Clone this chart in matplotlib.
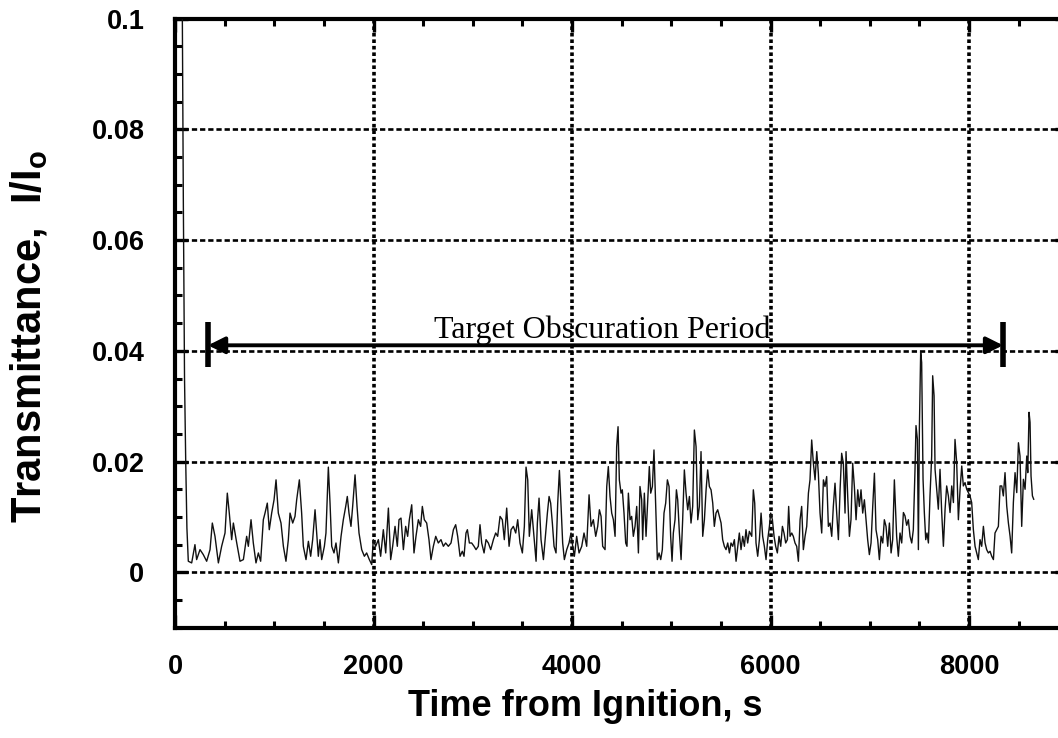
import numpy as np
import matplotlib
matplotlib.use("Agg")
import matplotlib.pyplot as plt
from matplotlib.ticker import MultipleLocator, FixedLocator, FixedFormatter

# data (transmittance in units of 1e-3)
# ------------------------------------------------------------
time_s = [
    50, 74, 84, 96, 108, 120, 134,
    168, 201, 218, 252, 285, 319, 353, 376, 403, 437, 470, 504, 527, 547, 571, 588, 622, 655, 689, 722, 739,
    766, 789, 816, 840, 863, 890, 907, 930, 950, 974, 998, 1018, 1041, 1068, 1092, 1118, 1142, 1159, 1186,
    1209, 1226, 1253, 1276, 1293, 1320, 1344, 1367, 1387, 1411, 1427,
    1444, 1461, 1478, 1505, 1521, 1545, 1562, 1579, 1602, 1622, 1646, 1673, 1696, 1720, 1736, 1753, 1773,
    1790, 1814, 1834, 1854, 1881, 1908, 1931, 1958, 1982, 1998, 2022, 2049, 2072, 2099, 2123, 2150, 2173,
    2193, 2217, 2240, 2257, 2277, 2301, 2324, 2344, 2361, 2385, 2408, 2428, 2452, 2475, 2492, 2512, 2536,
    2559, 2579, 2603, 2627, 2653, 2680, 2704, 2727, 2754, 2781, 2805, 2828, 2848, 2872, 2895,
    2912, 2932, 2946, 2966, 2989, 3013, 3033, 3056, 3073, 3090, 3114, 3134, 3157, 3181, 3208, 3231, 3251,
    3275, 3298, 3318, 3342, 3366, 3386, 3409, 3433, 3453, 3476, 3500, 3520, 3537, 3554, 3570, 3594, 3617,
    3638, 3651, 3668, 3688, 3712, 3735, 3752, 3769, 3785, 3802, 3819, 3839, 3856, 3873, 3890, 3906, 3923,
    3947, 3970, 3990, 4007, 4024, 4047, 4071, 4098, 4121, 4148, 4172, 4192, 4215, 4239, 4259, 4276, 4293,
    4309,
    4333, 4350, 4366, 4383, 4400, 4417, 4434, 4450, 4464, 4477, 4494, 4507, 4524, 4541, 4554, 4568, 4585,
    4601, 4618, 4635, 4652, 4669, 4685, 4702, 4712, 4729, 4746, 4763, 4779, 4793, 4810, 4826, 4843, 4860,
    4877, 4894, 4910, 4927, 4944, 4961, 4978, 4994, 5008, 5021, 5038, 5052, 5065, 5082, 5099, 5115, 5132,
    5149, 5166, 5183, 5199, 5216, 5233, 5250, 5267, 5283, 5300, 5317, 5334, 5351, 5367, 5384, 5401, 5418,
    5434, 5451, 5468, 5485, 5502, 5518, 5535, 5552, 5569, 5586, 5602, 5619, 5636, 5653, 5670, 5686, 5703,
    5720, 5737, 5753, 5770, 5787,
    5811, 5827, 5841, 5854, 5871, 5888, 5905, 5921, 5938, 5955, 5972, 5989, 6002, 6019, 6036, 6052, 6069,
    6086, 6103, 6120, 6136, 6153, 6170, 6183, 6197, 6214, 6230, 6247, 6264, 6281, 6298, 6314, 6331, 6348,
    6365, 6382, 6398, 6415, 6432, 6449, 6466, 6482, 6499, 6516, 6533, 6549, 6566, 6583, 6600, 6617, 6633,
    6650, 6667, 6684, 6701, 6717, 6734, 6751, 6761, 6778, 6795, 6811, 6828, 6845, 6862, 6879, 6895, 6912,
    6929, 6946, 6963, 6979, 6996, 7013, 7030, 7047, 7063, 7080, 7097, 7114, 7131, 7147, 7164, 7181, 7198,
    7215, 7231, 7248,
    7271, 7288, 7305, 7322, 7339, 7355, 7372, 7389, 7406, 7423, 7439, 7456, 7466, 7480, 7490, 7500, 7513,
    7523, 7537, 7550, 7564, 7577, 7591, 7607, 7624, 7634, 7648, 7658, 7675, 7691, 7708, 7725, 7742, 7759,
    7775, 7792, 7809, 7826, 7843, 7859, 7876, 7893, 7910, 7927, 7943, 7960, 7977, 7994, 8010, 8027, 8044,
    8061, 8078, 8094, 8111, 8128, 8145, 8162, 8178, 8195, 8212, 8229, 8246, 8262, 8279, 8296, 8313, 8330,
    8346, 8363, 8380, 8397, 8414, 8430, 8447, 8464, 8481, 8498, 8514, 8531, 8548, 8565, 8582, 8592, 8605,
    8615, 8625, 8639, 8652,
]

trans_milli = [
    130, 100, 67, 35, 20, 8, 2.0,
    1.7, 5.0, 2.3, 4.1, 3.2, 2.0, 4.1, 8.9, 6.5, 1.7, 4.7, 7.1, 14.3, 10.7, 5.9, 8.9, 5.3, 2.0, 2.3, 6.5, 4.7,
    9.5, 5.3, 1.7, 3.5, 2.0, 9.5, 10.7, 12.5, 7.7, 10.7, 13.1, 16.7, 10.7, 8.9, 4.7, 2.0, 5.9, 10.7, 8.9,
    10.1, 13.1, 16.7, 10.7, 4.7, 2.3, 5.6, 2.9, 5.9, 11.3, 7.1,
    2.9, 5.9, 2.3, 4.7, 7.1, 19.0, 12.5, 4.7, 3.5, 5.3, 1.7, 6.5, 9.5, 11.9, 13.7, 10.7, 8.3,
    11.9, 17.6, 11.9, 7.1, 4.1, 2.9, 3.5, 2.3, 1.4, 5.9, 4.7, 5.9, 2.9, 7.7, 3.5, 11.6, 2.3,
    4.7, 8.3, 4.7, 9.5, 9.8, 4.1, 8.3, 6.5, 9.5, 12.2, 3.5, 6.5, 9.5, 8.3, 11.9, 9.5, 8.9,
    5.9, 2.3, 4.7, 6.5, 5.3, 5.9, 4.7, 5.3, 4.7, 5.3, 7.7, 8.6, 6.5, 2.9, 3.8,
    2.9, 7.1, 7.7, 5.3, 5.3, 4.7, 4.1, 4.7, 8.6, 5.3, 3.5, 5.9, 5.3, 4.1, 5.9, 7.1, 6.5,
    10.1, 9.5, 5.9, 11.6, 4.7, 7.7, 8.3, 7.1, 9.5, 5.3, 3.5, 8.3, 19.0, 16.7, 6.5, 11.3, 6.5,
    2.0, 8.9, 13.4, 5.9, 2.3, 7.1, 10.7, 13.7, 12.5, 8.9, 4.7, 3.5, 12.5, 18.4, 11.9, 5.3, 2.3,
    4.1, 5.3, 7.1, 4.7, 2.9, 6.5, 3.5, 4.7, 7.1, 4.7, 14.0, 8.3, 9.5, 6.5, 8.3, 11.3, 10.1,
    4.7,
    4.1, 15.5, 19.1, 13.7, 10.7, 9.5, 6.5, 22.7, 26.3, 16.7, 14.3, 14.9, 10.7, 5.3, 4.7, 14.3, 9.5,
    10.1, 6.5, 8.3, 11.9, 3.5, 15.5, 13.1, 5.9, 14.3, 6.5, 13.1, 19.1, 14.3, 15.5, 22.1, 11.9, 2.3,
    3.5, 2.3, 4.1, 10.7, 12.5, 16.7, 15.5, 6.5, 2.0, 7.1, 9.5, 14.9, 13.1, 7.1, 2.3, 9.5, 18.5,
    14.3, 11.3, 13.7, 8.9, 11.9, 25.7, 22.7, 9.5, 11.9, 21.8, 6.5, 9.5, 14.9, 18.5, 15.5, 14.9, 12.5,
    8.3, 10.7, 11.3, 10.1, 8.9, 5.9, 4.7, 4.1, 5.3, 3.5, 5.3, 4.7, 5.9, 2.0, 4.7, 7.1, 4.1,
    6.5, 4.7, 7.7, 5.3, 7.4,
    6.5, 14.9, 12.5, 5.3, 2.9, 5.9, 10.7, 6.5, 4.7, 2.3, 5.9, 8.3, 10.7, 9.5, 6.5, 4.7, 3.5,
    6.5, 4.7, 8.3, 7.1, 5.3, 5.9, 11.9, 6.5, 7.1, 6.5, 5.3, 4.7, 2.0, 9.5, 11.9, 4.1, 6.5,
    8.3, 14.3, 16.7, 23.9, 19.7, 16.7, 21.8, 17.9, 10.7, 7.1, 16.7, 15.5, 17.3, 8.3, 8.9, 6.5, 11.9,
    16.1, 10.7, 5.9, 14.9, 21.5, 19.7, 10.7, 21.8, 13.7, 6.5, 9.5, 19.7, 15.5, 9.5, 14.9, 11.9, 14.9,
    10.7, 13.1, 9.5, 5.9, 3.2, 5.3, 11.9, 17.9, 7.7, 5.9, 2.3, 6.5, 5.3, 9.5, 8.3, 4.7, 8.9,
    3.5, 5.9, 16.7,
    6.5, 2.9, 7.1, 5.3, 10.8, 10.2, 8.5, 9.5, 6.5, 5.3, 7.7, 18.6, 26.5, 24.0, 4.1, 25.9, 39.8,
    37.9, 16.8, 10.8, 5.9, 7.1, 5.3, 13.8, 21.0, 35.5, 31.9, 18.6, 15.0, 11.4, 18.6, 10.8, 4.7, 11.4,
    15.6, 13.8, 10.8, 15.6, 12.6, 24.0, 19.8, 9.5, 15.0, 19.2, 15.6, 16.2, 15.0, 14.4, 13.8, 12.6, 7.7,
    4.7, 3.5, 2.3, 5.9, 4.7, 8.3, 5.3, 4.1, 3.5, 3.8, 2.9, 2.3, 7.1, 7.7, 8.3, 15.6, 15.6,
    13.8, 18.0, 12.0, 8.9, 6.5, 3.5, 12.6, 18.0, 14.4, 23.4, 21.0, 8.3, 16.8, 15.0, 21.0, 18.0, 28.9,
    27.1, 17.4, 13.8, 13.2,
]

x_ticks = [0, 2000, 4000, 6000, 8000]
x_tick_labels = ["0", "2000", "4000", "6000", "8000"]
y_ticks = [0, 0.02, 0.04, 0.06, 0.08, 0.1]
y_tick_labels = ["0", "0.02", "0.04", "0.06", "0.08", "0.1"]

# obscuration period marker
period_start = 333
period_end = 8343
period_level = 0.041
period_bar_low = 0.037
period_bar_high = 0.0452
period_label = "Target Obscuration Period"

if __name__ == "__main__":
    plt.rcParams['font.family'] = ['Liberation Sans', 'DejaVu Sans']
    plt.rcParams['mathtext.fontset'] = 'custom'
    plt.rcParams['mathtext.rm'] = 'Liberation Sans'
    plt.rcParams['mathtext.bf'] = 'Liberation Sans:bold'

    fig = plt.figure(figsize=(10.58, 7.38), dpi=100)
    # right spine (x = 9000) falls just outside the picture, as in the original
    ax = fig.add_axes([175 / 1058, 110.3 / 738, 893.25 / 1058, 609.1 / 738])

    ax.set_xlim(0, 9000)
    ax.set_ylim(-0.01, 0.1)

    # transmittance trace
    ax.plot(time_s, np.array(trans_milli) / 1000.0, color="#111111", lw=1.0, zorder=3)

    # ticks
    ax.xaxis.set_major_locator(FixedLocator(x_ticks))
    ax.xaxis.set_major_formatter(FixedFormatter(x_tick_labels))
    ax.xaxis.set_minor_locator(MultipleLocator(500))
    ax.yaxis.set_major_locator(FixedLocator(y_ticks))
    ax.yaxis.set_major_formatter(FixedFormatter(y_tick_labels))
    ax.yaxis.set_minor_locator(MultipleLocator(0.005))

    ax.tick_params(which="both", direction="in", top=True, right=True, color="k")
    ax.tick_params(which="major", length=9.5, width=2.4, labelsize=19.5)
    ax.tick_params(which="minor", length=5.2, width=2.2)
    ax.tick_params(axis="x", which="major", pad=19)
    ax.tick_params(axis="y", which="major", pad=22)
    for lbl in ax.get_xticklabels() + ax.get_yticklabels():
        lbl.set_fontweight("bold")

    for sp in ax.spines.values():
        sp.set_linewidth(3)

    # grid: dotted-ish verticals, dashed horizontals
    ax.xaxis.grid(True, which="major", color="k", lw=2.6, ls=(0, (1.0, 0.8)))
    ax.yaxis.grid(True, which="major", color="k", lw=1.9, ls=(0, (2.0, 1.1)))

    # obscuration period arrow
    ax.annotate("", xy=(period_end, period_level), xytext=(period_start, period_level),
                arrowprops=dict(arrowstyle="<|-|>", color="k", lw=2.8,
                                mutation_scale=25, shrinkA=0, shrinkB=0),
                zorder=4)
    for xb in (period_start, period_end):
        ax.plot([xb, xb], [period_bar_low, period_bar_high], color="k", lw=4,
                solid_capstyle="butt", zorder=4)
    ax.text((period_start + period_end) / 2 - 30, 0.0423, period_label,
            family="Liberation Serif", fontsize=23, ha="center", va="baseline", zorder=5)

    # axis labels
    fig.text(585 / 1058, 1 - 707 / 738, "Time from Ignition, s",
             fontsize=26, fontweight="bold", ha="center", va="center")
    fig.text(29 / 1058, 1 - 337 / 738, r"Transmittance,  I/I$_{\mathbf{o}}$",
             fontsize=30, fontweight="bold", rotation=90, ha="center", va="center")

    fig.savefig("out.png", dpi=100)
